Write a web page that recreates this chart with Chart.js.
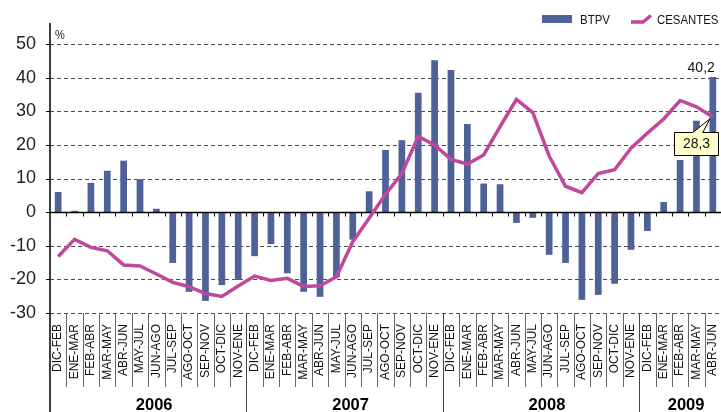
<!DOCTYPE html>
<html>
<head>
<meta charset="utf-8">
<script src="https://cdn.jsdelivr.net/npm/chart.js@4.4.1/dist/chart.umd.min.js"></script>
<style>
html,body{margin:0;padding:0;background:#fff;}
#wrap{width:721px;height:412px;position:relative;overflow:hidden;}
canvas{display:block;}
</style>
</head>
<body>
<div id="wrap"><canvas id="c" width="721" height="412"></canvas></div>
<script>
// ---- data ----
const periods = ['DIC-FEB','ENE-MAR','FEB-ABR','MAR-MAY','ABR-JUN','MAY-JUL','JUN-AGO','JUL-SEP','AGO-OCT','SEP-NOV','OCT-DIC','NOV-ENE'];
const years = ['2006','2007','2008','2009'];
const yearCounts = [12, 12, 12, 5];
const categories = [].concat(periods, periods, periods, periods.slice(0, 5));
const btpv = [6.0, 0.4, 8.7, 12.3, 15.3, 9.8, 1.0, -15.1, -23.7, -26.4, -21.7, -20.2,
  -13.1, -9.5, -18.2, -23.7, -25.2, -19.4, -8.2, 6.2, 18.5, 21.4, 35.5, 45.2,
  42.3, 26.2, 8.5, 8.3, -3.2, -1.7, -12.7, -15.1, -26.1, -24.6, -21.3, -11.2,
  -5.6, 3.0, 15.5, 27.2, 40.2];
const cesantes = [-13.2, -8.1, -10.5, -11.5, -15.7, -16.0, -18.4, -20.9, -22.2, -24.2, -25.1, -22.0,
  -19.0, -20.3, -19.7, -22.1, -21.9, -19.2, -8.8, -1.8, 5.3, 11.5, 22.5, 20.0,
  15.7, 14.3, 17.0, 25.4, 33.5, 29.6, 16.7, 7.7, 5.8, 11.5, 12.6, 19.0,
  23.5, 27.7, 33.2, 31.3, 28.3];
const yTicks = [-30, -20, -10, 0, 10, 20, 30, 40, 50];
const seriesNames = ['BTPV', 'CESANTES'];
const unitLabel = '%';

const FONT = "'Liberation Sans', Arial, sans-serif";
const BLUE = '#4e6298';
const PINK = '#c0479c';

const fmt = v => String(v).replace('.', ',');

function condensedText(ctx, text, x, y, sx) {
  ctx.save();
  ctx.translate(x, y);
  ctx.scale(sx, 1);
  ctx.fillText(text, 0, 0);
  ctx.restore();
}

const decor = {
  id: 'decor',
  beforeDatasetsDraw(chart) {
    const {ctx, chartArea: a, scales: {y}} = chart;
    ctx.save();
    ctx.strokeStyle = '#4a4a4a';
    ctx.lineWidth = 1;
    ctx.setLineDash([4, 3]);
    yTicks.forEach(v => {
      if (v === 0) return;
      const py = Math.round(y.getPixelForValue(v)) + 0.5;
      ctx.beginPath(); ctx.moveTo(a.left, py); ctx.lineTo(a.right, py); ctx.stroke();
    });
    ctx.restore();
  },
  afterDatasetDraw(chart, args) {
    if (args.meta.type !== 'bar') return;
    const {ctx, chartArea: a, scales: {x, y}} = chart;
    ctx.save();
    const z = Math.round(y.getPixelForValue(0)) + 0.5;
    ctx.strokeStyle = '#000';
    ctx.lineWidth = 1.5;
    ctx.beginPath(); ctx.moveTo(a.left, z); ctx.lineTo(a.right, z); ctx.stroke();
    ctx.lineWidth = 1;
    const step = x.getPixelForValue(1) - x.getPixelForValue(0);
    for (let i = 1; i <= categories.length; i++) {
      const bx = Math.round(x.getPixelForValue(i - 1) + step / 2) + 0.5;
      ctx.beginPath(); ctx.moveTo(bx, z); ctx.lineTo(bx, z + 4); ctx.stroke();
    }
    ctx.restore();
  },
  afterDraw(chart) {
    const {ctx, chartArea: a, scales: {x, y}} = chart;
    const H = chart.height;
    ctx.save();
    // y axis line
    ctx.strokeStyle = '#000';
    ctx.lineWidth = 1.5;
    ctx.beginPath(); ctx.moveTo(a.left, 23); ctx.lineTo(a.left, H); ctx.stroke();
    // y tick marks
    ctx.lineWidth = 1;
    yTicks.forEach(v => {
      const py = Math.round(y.getPixelForValue(v)) + 0.5;
      ctx.beginPath(); ctx.moveTo(a.left - 4, py); ctx.lineTo(a.left, py); ctx.stroke();
    });
    // separators in label area
    const step = x.getPixelForValue(1) - x.getPixelForValue(0);
    const bounds = [];
    for (let i = 0; i <= categories.length; i++) bounds.push(x.getPixelForValue(0) - step / 2 + i * step);
    const yearStarts = [];
    let acc = 0;
    yearCounts.forEach(c => { yearStarts.push(acc); acc += c; });
    for (let i = 1; i < categories.length; i++) {
      const bx = Math.round(bounds[i]) + 0.5;
      const isYear = yearStarts.includes(i);
      ctx.strokeStyle = isYear ? '#444' : '#666';
      ctx.lineWidth = 1;
      ctx.beginPath(); ctx.moveTo(bx, a.bottom); ctx.lineTo(bx, isYear ? H : 387); ctx.stroke();
    }
    // year labels
    ctx.fillStyle = '#000';
    ctx.font = 'bold 16.5px ' + FONT;
    ctx.textAlign = 'center';
    ctx.textBaseline = 'alphabetic';
    years.forEach((yr, k) => {
      const s = yearStarts[k], e = s + yearCounts[k];
      const cx = (bounds[s] + bounds[e]) / 2 + 6;
      ctx.fillText(yr, cx, 410);
    });
    // unit label
    ctx.font = '13px ' + FONT;
    ctx.textAlign = 'left';
    ctx.fillStyle = '#222';
    condensedText(ctx, unitLabel, a.left + 5, 39, 0.85);
    // legend
    ctx.fillStyle = BLUE;
    ctx.fillRect(542, 15, 30, 8);
    ctx.fillStyle = '#111';
    ctx.font = '12.5px ' + FONT;
    condensedText(ctx, seriesNames[0], 580, 24, 0.92);
    ctx.strokeStyle = PINK;
    ctx.lineWidth = 3.5;
    ctx.lineJoin = 'miter';
    ctx.beginPath(); ctx.moveTo(631, 22); ctx.lineTo(643, 22); ctx.lineTo(651, 15.5); ctx.stroke();
    condensedText(ctx, seriesNames[1], 657, 24, 0.91);
    // value labels
    const last = categories.length - 1;
    const bar = chart.getDatasetMeta(1).data[last];
    ctx.font = '14px ' + FONT;
    ctx.textAlign = 'right';
    ctx.textBaseline = 'bottom';
    ctx.fillStyle = '#111';
    ctx.fillText(fmt(btpv[last]), bar.x + 2, bar.y - 2);
    // callout for line
    const pt = chart.getDatasetMeta(0).data[last];
    const bl = Math.round(pt.x - 39), bt = Math.round(pt.y + 15), bw = 44, bh = 23;
    ctx.fillStyle = '#ffffcc';
    ctx.strokeStyle = '#000';
    ctx.lineWidth = 1;
    ctx.beginPath();
    ctx.moveTo(bl + 0.5, bt + 0.5);
    ctx.lineTo(pt.x - 20, bt + 0.5);
    ctx.lineTo(pt.x - 3, pt.y + 2);
    ctx.lineTo(pt.x - 10, bt + 0.5);
    ctx.lineTo(bl + bw + 0.5, bt + 0.5);
    ctx.lineTo(bl + bw + 0.5, bt + bh + 0.5);
    ctx.lineTo(bl + 0.5, bt + bh + 0.5);
    ctx.closePath();
    ctx.fill(); ctx.stroke();
    ctx.fillStyle = '#111';
    ctx.textAlign = 'center';
    ctx.textBaseline = 'middle';
    ctx.font = '14px ' + FONT;
    ctx.fillText(fmt(cesantes[last]), bl + bw / 2 + 0.5, bt + bh / 2 + 1);
    ctx.restore();
  }
};

new Chart(document.getElementById('c'), {
  type: 'bar',
  data: {
    labels: categories,
    datasets: [
      { type: 'line', label: seriesNames[1], data: cesantes, borderColor: PINK, backgroundColor: PINK,
        borderWidth: 3.5, pointRadius: 0, tension: 0, order: 0, borderJoinStyle: 'miter' },
      { type: 'bar', label: seriesNames[0], data: btpv, backgroundColor: BLUE, borderWidth: 0,
        barPercentage: 0.41, categoryPercentage: 1.0, order: 1 }
    ]
  },
  options: {
    responsive: false,
    animation: false,
    devicePixelRatio: 1,
    layout: { padding: { top: 44, right: 0, left: 0, bottom: 0 } },
    plugins: { legend: { display: false }, tooltip: { enabled: false }, title: { display: false } },
    scales: {
      x: {
        offset: true,
        grid: { display: false, drawTicks: false },
        border: { display: false },
        ticks: { autoSkip: false, maxRotation: 90, minRotation: 90, padding: 11, color: '#111',
                 font: { family: FONT, size: 12 } },
        afterFit: s => { s.height = 99; s.paddingLeft = 0; s.paddingRight = 0; }
      },
      y: {
        min: -30, max: 50,
        grid: { display: false, drawTicks: false },
        border: { display: false },
        ticks: { stepSize: 10, padding: 14, color: '#222', font: { family: FONT, size: 18 } },
        afterFit: s => { s.width = 50; s.paddingTop = 0; s.paddingBottom = 0; }
      }
    }
  },
  plugins: [decor]
});
</script>
</body>
</html>
